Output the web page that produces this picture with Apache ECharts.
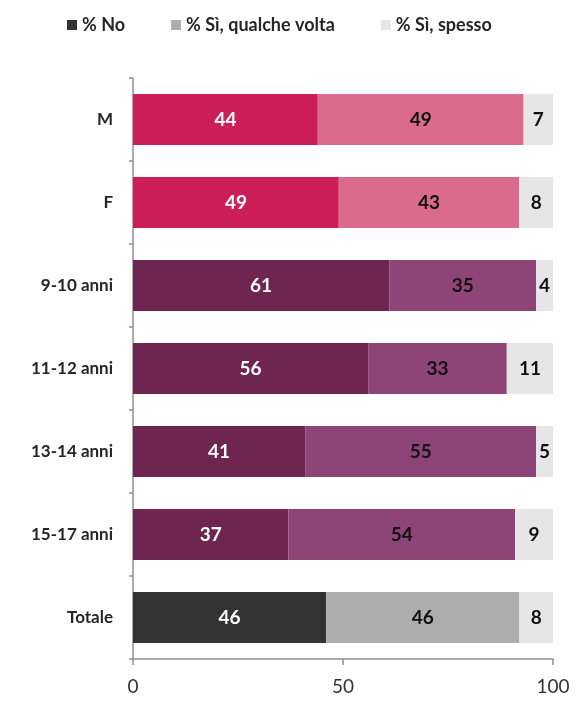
<!DOCTYPE html>
<html><head><meta charset="utf-8">
<script src="https://cdn.jsdelivr.net/npm/echarts@6/dist/echarts.min.js"></script>
<style>html,body{margin:0;padding:0;background:#fff}#c{width:583px;height:702px}</style>
</head><body><div id="c"></div>
<script>
var categories = ['M', 'F', '9-10 anni', '11-12 anni', '13-14 anni', '15-17 anni', 'Totale'];
var seriesNames = ['% No', '% Sì, qualche volta', '% Sì, spesso'];
var valNo = [44, 49, 61, 56, 41, 37, 46];
var valQualche = [49, 43, 35, 33, 55, 54, 46];
var valSpesso = [7, 8, 4, 11, 5, 9, 8];
var xTicks = [0, 50, 100];

var colNo = ['#CC1F59', '#CC1F59', '#6E2550', '#6E2550', '#6E2550', '#6E2550', '#333333'];
var colQualche = ['#DA6B8D', '#DA6B8D', '#8D4577', '#8D4577', '#8D4577', '#8D4577', '#ADADAD'];
var colSpesso = ['#E6E6E6', '#E6E6E6', '#E6E6E6', '#E6E6E6', '#E6E6E6', '#E6E6E6', '#E6E6E6'];
var legendCols = ['#333333', '#ADADAD', '#E6E6E6'];
var labelCols = ['#FFFFFF', '#111111', '#111111'];

function mk(vals, cols) {
  return vals.map(function (v, i) { return { value: v, itemStyle: { color: cols[i] } }; });
}
var font = 'Lato, "Open Sans", sans-serif';
var allVals = [valNo, valQualche, valSpesso];
var allCols = [colNo, colQualche, colSpesso];
var series = seriesNames.map(function (n, k) {
  return {
    name: n, type: 'bar', stack: 'tot', barWidth: 51,
    itemStyle: { color: legendCols[k] },
    data: mk(allVals[k], allCols[k]),
    label: { show: true, position: 'inside', color: labelCols[k], fontSize: 19, fontWeight: 'bold', fontFamily: font },
    emphasis: { disabled: true }
  };
});

var chart = echarts.init(document.getElementById('c'), null, { renderer: 'canvas' });
chart.setOption({
  animation: false,
  legend: {
    top: 11, left: 62, itemWidth: 10, itemHeight: 10, itemGap: 46,
    textStyle: { fontSize: 18, fontWeight: 'bold', color: '#262626', fontFamily: font },
    icon: 'rect',
    data: seriesNames
  },
  grid: { left: 133, right: 30, top: 78, bottom: 43, containLabel: false },
  xAxis: {
    type: 'value', min: 0, max: 100, interval: 50,
    axisLine: { show: true, lineStyle: { color: '#909090', width: 1.5 } },
    axisTick: { show: true, length: 6, lineStyle: { color: '#909090', width: 1.5 } },
    axisLabel: { fontSize: 19, color: '#333', fontFamily: font, margin: 18 },
    splitLine: { show: false }
  },
  yAxis: {
    type: 'category', inverse: true, data: categories,
    axisLine: { show: true, lineStyle: { color: '#909090', width: 1.5 } },
    axisTick: { show: true, length: 4, lineStyle: { color: '#909090', width: 1.5 } },
    axisLabel: { fontSize: 17, fontWeight: 'bold', color: '#262626', fontFamily: font, margin: 20 }
  },
  series: series
});
</script></body></html>
